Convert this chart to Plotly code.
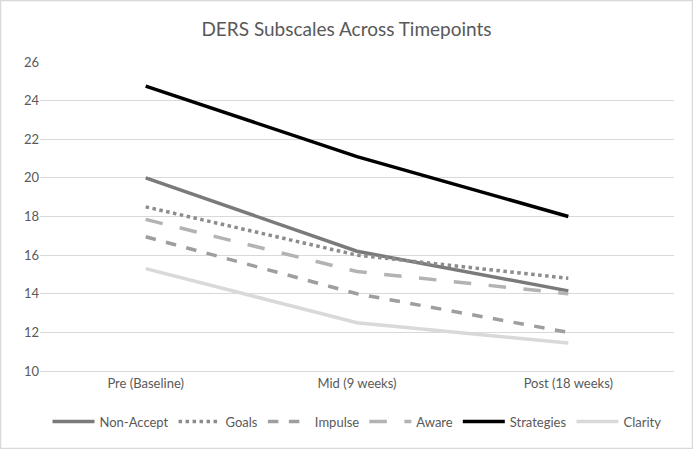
import plotly.graph_objects as go

timepoints = ["Pre (Baseline)", "Mid (9 weeks)", "Post (18 weeks)"]
non_accept = [20.0, 16.2, 14.15]
goals = [18.5, 16.0, 14.8]
impulse = [16.95, 14.0, 12.0]
aware = [17.85, 15.15, 14.0]
strategies = [24.75, 21.1, 18.0]
clarity = [15.3, 12.5, 11.45]

series = [
    ("Non-Accept", non_accept, "#7a7a7a", "solid"),
    ("Goals", goals, "#8c8c8c", "dot"),
    ("Impulse", impulse, "#9e9e9e", "dash"),
    ("Aware", aware, "#b3b3b3", "longdash"),
    ("Strategies", strategies, "#000000", "solid"),
    ("Clarity", clarity, "#d9d9d9", "solid"),
]

FONT = "Liberation Sans Narrow, Lato, Arial, sans-serif"

fig = go.Figure()
for name, vals, color, dash in series:
    fig.add_trace(go.Scatter(
        x=timepoints, y=vals, name=name, mode="lines",
        line=dict(color=color, width=3.5, dash=dash),
    ))

fig.update_layout(
    width=693, height=449,
    paper_bgcolor="white", plot_bgcolor="white",
    margin=dict(l=40, r=19, t=62, b=78),
    title=dict(text="DERS Subscales Across Timepoints", x=0.5, xanchor="center",
               y=0.935, yanchor="middle",
               font=dict(family=FONT, size=19, color="#595959")),
    font=dict(family=FONT, size=13, color="#595959"),
    xaxis=dict(showgrid=False, showline=True, linecolor="#d9d9d9", linewidth=1,
               ticks="", tickfont=dict(size=13, color="#595959"),
               range=[-0.5, 2.5], zeroline=False),
    yaxis=dict(range=[10, 26], dtick=2, showgrid=True, gridcolor="#d9d9d9",
               gridwidth=1, zeroline=False, showline=False, ticks="",
               tickfont=dict(size=13, color="#595959")),
    legend=dict(orientation="h", x=0.5, xanchor="center", y=-0.115, yanchor="top",
                font=dict(size=13, color="#595959"), itemwidth=42,
                tracegroupgap=0),
    shapes=[dict(type="rect", xref="paper", yref="paper",
                 x0=-39.5/634, x1=1 + 18.5/634, y0=-77.5/309, y1=1 + 61.5/309,
                 line=dict(color="#d9d9d9", width=1.5))],
)

fig.write_html("out.html", config={"displayModeBar": False},
               post_script="document.body.style.margin='0';document.body.style.padding='0';")
